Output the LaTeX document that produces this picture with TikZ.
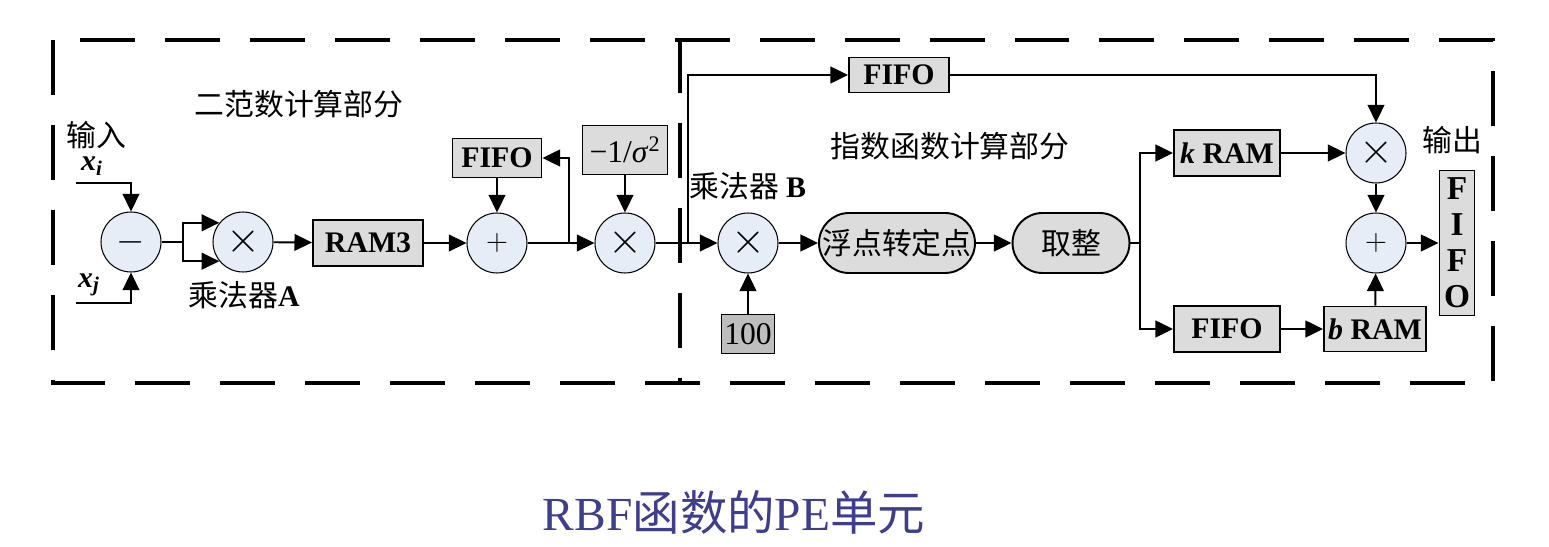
\documentclass[tikz,border=0pt]{standalone}
\usepackage{fontspec}
\setmainfont{Liberation Serif}
\newfontfamily\cjk{Noto Sans CJK SC}
\usetikzlibrary{arrows.meta}
\definecolor{opfill}{RGB}{230,237,247}
\definecolor{boxfill}{RGB}{220,220,220}
\definecolor{darkfill}{RGB}{190,190,190}
\definecolor{capcol}{RGB}{62,62,140}

\begin{document}
\begin{tikzpicture}[x=0.02cm,y=-0.02cm,line width=1.1pt,>={Triangle[length=10pt,width=9.5pt]}]
		\tikzstyle{op}=[circle,draw,fill=opfill,minimum size=1.2cm,inner sep=0pt,line width=0.6pt]
		\tikzstyle{blk}=[draw,fill=boxfill,inner sep=0pt,font=\bfseries\fontsize{17}{17}\selectfont]
		\tikzstyle{rblk}=[draw,fill=boxfill,inner sep=0pt,rounded corners=0.6cm,minimum height=1.2cm,font=\cjk\fontsize{17}{17}\selectfont]
		\tikzstyle{lbl}=[inner sep=0pt,font=\cjk\fontsize{17}{17}\selectfont]
		\tikzstyle{dashbox}=[line width=1.8pt,dash pattern=on 1.1cm off 0.6cm]
		\fill[white] (0,0) rectangle (1549,547);

		% dashed regions
		\draw[dashbox] (53,40) rectangle (1493,383);
		\draw[dashbox] (680,38) -- (680,383);
		\node[lbl] (t1) at (299,104) {二范数计算部分};
		\node[lbl] (t2) at (950,146) {指数函数计算部分};

		% norm part
		\node[lbl] (in) at (96,135) {输入};
		\node[inner sep=0pt,font=\fontsize{17}{17}\selectfont] (xi) at (92,166) {\textbf{\textit{x}}\textsubscript{\textbf{\textit{i}}}};
		\node[inner sep=0pt,font=\fontsize{17}{17}\selectfont] (xj) at (89,285) {\textbf{\textit{x}}\textsubscript{\textbf{\textit{j}}}};
		\coordinate (xiend) at (76,183);
		\coordinate (xjend) at (76,303);
		\node[op,font=\fontsize{20}{20}\selectfont] (sub) at (131,242) {$-$};
		\node[op,font=\fontsize{26}{26}\selectfont] (mulA) at (243,242) {$\times$};
		\node[lbl] (labA) at (244,295) {乘法器\textbf{\rmfamily A}};
		\node[blk,minimum width=2.2cm,minimum height=0.92cm] (ram3) at (368,243) {RAM3};
		\node[op,font=\fontsize{19}{19}\selectfont] (add1) at (497,243) {$+$};
		\node[blk,minimum width=1.78cm,minimum height=0.78cm] (fifo1) at (497,158) {FIFO};
		\node[blk,font=\fontsize{18}{18}\selectfont,minimum width=1.7cm,minimum height=0.98cm] (sig) at (625,150) {−1/\textit{σ}\textsuperscript{2}};
		\node[op,font=\fontsize{26}{26}\selectfont] (mulC) at (625,243) {$\times$};

		% exp part
		\node[blk,minimum width=2cm,minimum height=0.7cm] (fifoT) at (899,75) {FIFO};
		\node[lbl] (labB) at (748,186) {乘法器 \textbf{\rmfamily B}};
		\node[op,font=\fontsize{26}{26}\selectfont] (mulB) at (748,243) {$\times$};
		\node[draw,fill=darkfill,inner sep=0pt,minimum width=1.06cm,minimum height=0.78cm,font=\fontsize{18}{18}\selectfont] (hundred) at (748,334) {100};
		\node[rblk,minimum width=3.12cm] (f2i) at (897,243) {浮点转定点};
		\node[rblk,minimum width=2.34cm] (rnd) at (1071,243) {取整};
		\node[blk,minimum width=2.12cm,minimum height=0.92cm] (kram) at (1227,153) {\textit{k} RAM};
		\node[blk,minimum width=2.12cm,minimum height=0.92cm] (fifoB) at (1227,329) {FIFO};
		\node[blk,minimum width=2.04cm,minimum height=0.9cm] (bram) at (1375,329) {\textit{b} RAM};
		\node[op,font=\fontsize{26}{26}\selectfont] (mulD) at (1376,153) {$\times$};
		\node[op,font=\fontsize{19}{19}\selectfont] (add2) at (1376,243) {$+$};
		\node[lbl] (out) at (1452,140) {输出};
		\node[blk,font=\bfseries\fontsize{19}{20.5}\selectfont,align=center,minimum width=0.7cm,minimum height=2.9cm] (fifoOut) at (1457,243) {F\\I\\F\\O};

		\node[inner sep=0pt,text=capcol,font=\fontsize{27}{27}\selectfont] (cap) at (734,512) {RBF{\cjk 函数的}PE{\cjk 单元}};

		% connections
		\coordinate (splitA) at (183,242);
		\coordinate (brC) at (569,243);
		\coordinate (brB) at (688,243);
		\coordinate (brR) at (1140,243);
		\draw[->] (xiend) -| (sub);
		\draw[->] (xjend) -| (sub);
		\draw (sub) -- (splitA);
		\draw[->] (splitA) |- (mulA.141);
		\draw[->] (splitA) |- (mulA.219);
		\draw[->] (mulA) -- (ram3);
		\draw[->] (ram3) -- (add1);
		\draw[->] (fifo1) -- (add1);
		\draw[->] (add1) -- (mulC);
		\draw[->] (brC) |- (fifo1);
		\draw[->] (sig) -- (mulC);
		\draw[->] (mulC) -- (mulB);
		\draw[->] (brB) |- (fifoT);
		\draw[->] (hundred) -- (mulB);
		\draw[->] (mulB) -- (f2i);
		\draw[->] (f2i) -- (rnd);
		\draw (rnd) -- (brR);
		\draw[->] (brR) |- (kram);
		\draw[->] (brR) |- (fifoB);
		\draw[->] (fifoB) -- (bram);
		\draw[->] (fifoT) -| (mulD);
		\draw[->] (kram) -- (mulD);
		\draw[->] (mulD) -- (add2);
		\draw[->] (bram) -- (add2);
		\draw[->] (add2) -- (fifoOut);
\end{tikzpicture}
\end{document}
